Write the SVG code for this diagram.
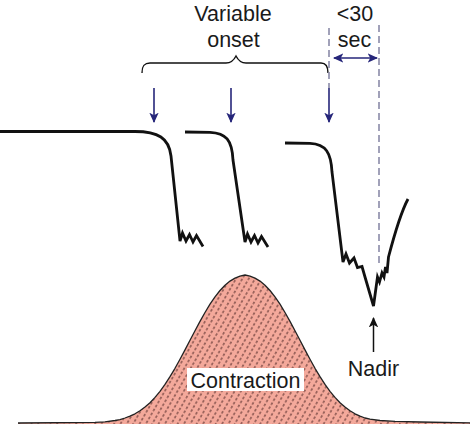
<svg xmlns="http://www.w3.org/2000/svg" width="470" height="424" viewBox="0 0 470 424">
<style>
.t{font-family:"Liberation Sans",Arial,sans-serif;font-size:21.5px;fill:#1a1a1a;text-anchor:middle}
.trace{fill:none;stroke:#111;stroke-width:2.8;stroke-linejoin:miter;stroke-linecap:butt}
.nav{stroke:#26267a;stroke-width:1.6;fill:none}
.dash{stroke:#8a8aa8;stroke-width:1.6;stroke-dasharray:7 4;fill:none}
</style>
<defs>
<pattern id="hatch" width="5.5" height="4.6" patternUnits="userSpaceOnUse" patternTransform="rotate(30)">
<rect width="5.5" height="4.6" fill="#f4a99b"/>
<line x1="2.75" y1="0.8" x2="2.75" y2="3.4" stroke="#3a1818" stroke-width="0.9"/>
</pattern>
<marker id="an" viewBox="0 0 10 10" refX="9" refY="5" markerWidth="6.5" markerHeight="6.5" orient="auto-start-reverse" markerUnits="strokeWidth">
<path d="M0,0.5 L10,5 L0,9.5 L2.5,5 Z" fill="#26267a"/>
</marker>
<marker id="ab" viewBox="0 0 10 10" refX="9" refY="5" markerWidth="7" markerHeight="7" orient="auto" markerUnits="strokeWidth">
<path d="M0,0.5 L10,5 L0,9.5 L2.5,5 Z" fill="#111"/>
</marker>
</defs>
<rect width="470" height="424" fill="#fff"/>

<g id="contraction">
<path d="M18,423 L95,422.4 L105,421.8 L115,420.5 L120,419.6 L125,418 L130,416.2 L135,413.8 L140,410.8 L145,407.1 L150,402.7 L155,397.4 L160,391.3 L165,384.4 L170,376.7 L175,368.3 L180,359.3 L185,349.9 L190,340.3 L195,330.8 L200,321.4 L205,312.5 L210,304.2 L215,296.9 L220,290.5 L225,285.2 L230,281.1 L235,278.1 L240,276.2 L245,275 L250,276.2 L255,278.1 L260,281.1 L265,285.2 L270,290.5 L275,296.9 L280,304.2 L285,312.5 L290,321.4 L295,330.8 L300,340.3 L305,349.9 L310,359.3 L315,368.3 L320,376.7 L325,384.4 L330,391.3 L335,397.4 L340,402.7 L345,407.1 L350,410.8 L355,413.8 L360,416.2 L365,418 L370,419.2 L380,420.5 L395,421.3 L420,422 L470,422.8 L470,425 L18,425 Z" fill="url(#hatch)" stroke="none"/>
<path d="M18,423 L95,422.4 L105,421.8 L115,420.5 L120,419.6 L125,418 L130,416.2 L135,413.8 L140,410.8 L145,407.1 L150,402.7 L155,397.4 L160,391.3 L165,384.4 L170,376.7 L175,368.3 L180,359.3 L185,349.9 L190,340.3 L195,330.8 L200,321.4 L205,312.5 L210,304.2 L215,296.9 L220,290.5 L225,285.2 L230,281.1 L235,278.1 L240,276.2 L245,275 L250,276.2 L255,278.1 L260,281.1 L265,285.2 L270,290.5 L275,296.9 L280,304.2 L285,312.5 L290,321.4 L295,330.8 L300,340.3 L305,349.9 L310,359.3 L315,368.3 L320,376.7 L325,384.4 L330,391.3 L335,397.4 L340,402.7 L345,407.1 L350,410.8 L355,413.8 L360,416.2 L365,418 L370,419.2 L380,420.5 L395,421.3 L420,422 L470,422.8" fill="none" stroke="#222" stroke-width="1.3" stroke-linejoin="round"/>
<rect x="187" y="368" width="117" height="23" fill="#fff"/>
<text class="t" x="245.5" y="387.5">Contraction</text>
</g>

<g id="trace1">
<path class="trace" d="M0,131.5 L135,131.5 C158,131.5 169,138 171,156 L180,241 L182.5,233 L186,241 L189.5,234.5 L193,242 L196.5,235.5 L203,246.5"/>
</g>
<g id="trace2">
<path class="trace" d="M185,132 L210,132.3 C226,133 232,140 233,160 L245,242 L247.5,234 L251,242 L254.5,235.5 L258,243 L261.5,236.5 L268,247"/>
</g>
<g id="trace3">
<path class="trace" d="M285,143 L310,143.4 C326,144 331,153 332,172 L343,262 L346,254 L349.5,263 L354,258 L357.5,267.5 L362,266.5 L365,277 L373.5,306 L377.5,277 L379.5,282 L382,273 L384,277 L385.5,267 L387,273 L388.5,257 C394,236 400,214 408,199"/>
</g>

<g id="nadir">
<line x1="373.5" y1="352" x2="373.5" y2="318" stroke="#111" stroke-width="1.5" marker-end="url(#ab)"/>
<text class="t" x="373.5" y="376">Nadir</text>
</g>

<g id="onset-label">
<text class="t" x="233" y="21">Variable</text>
<text class="t" x="233.5" y="47">onset</text>
<path d="M142,73 C142,66 144,63 150,63 L226,63 C231,63 234,60 236,56 C238,60 241,63 246,63 L321,63 C326,63 328,66 328,73" fill="none" stroke="#111" stroke-width="1.4"/>
</g>

<g id="sec-label">
<text class="t" x="355" y="21">&lt;30</text>
<text class="t" x="354.5" y="47">sec</text>
</g>

<g id="connectors">
<line class="dash" x1="329" y1="28" x2="329" y2="88"/>
<line class="dash" x1="379" y1="25" x2="379" y2="263"/>
<line class="nav" x1="334" y1="58" x2="377" y2="58" marker-start="url(#an)" marker-end="url(#an)"/>
<line class="nav" x1="154" y1="88" x2="154" y2="122" marker-end="url(#an)"/>
<line class="nav" x1="231" y1="88" x2="231" y2="122" marker-end="url(#an)"/>
<line class="nav" x1="329" y1="88" x2="329" y2="122" marker-end="url(#an)"/>
</g>
</svg>
